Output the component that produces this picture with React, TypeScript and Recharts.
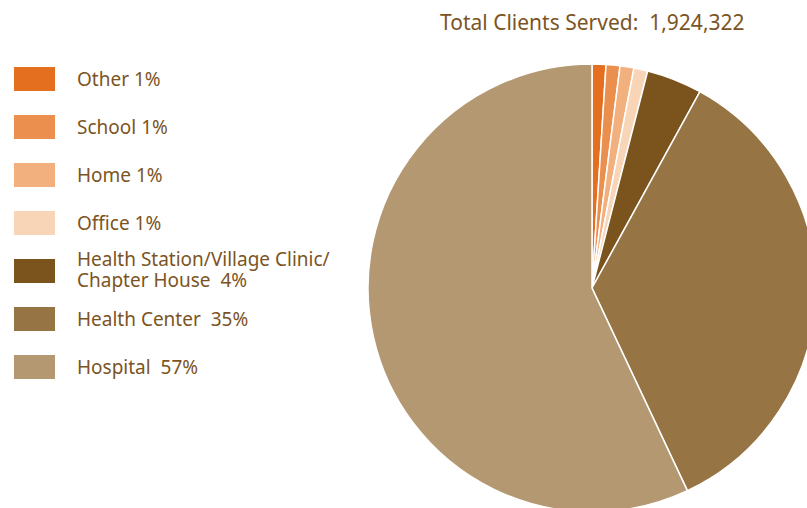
import React from 'react';
import { PieChart, Pie, Cell, Legend } from 'recharts';

// Sites where clients were served, clockwise from 12 o'clock
const CATEGORIES = [
  'Other',
  'School',
  'Home',
  'Office',
  'Health Station/Village Clinic/ Chapter House',
  'Health Center',
  'Hospital',
];
const SHARES = [1, 1, 1, 1, 4, 35, 57];
const LEGEND_LABELS = [
  ['Other 1%'],
  ['School 1%'],
  ['Home 1%'],
  ['Office 1%'],
  ['Health Station/Village Clinic/', 'Chapter House\u00a0 4%'],
  ['Health Center\u00a0 35%'],
  ['Hospital\u00a0 57%'],
];
const TITLE = 'Total Clients Served:\u00a0 1,924,322';

const COLORS = ['#e4701f', '#eb8f4f', '#f3b07f', '#f9d5b8', '#7b531c', '#977444', '#b49871'];
const TEXT = '#7c5424';
const FONT = '"Noto Sans", sans-serif';

const data = CATEGORIES.map((name, i) => ({ name, value: SHARES[i], label: LEGEND_LABELS[i] }));

const renderLegend = () => (
  <div style={{ fontFamily: FONT, color: TEXT }}>
    {data.map((d, i) => (
      <div key={d.name} style={{ position: 'absolute', left: 14, top: 67 + i * 48, height: 24 }}>
        <div style={{ position: 'absolute', left: 0, top: 0, width: 41, height: 24, background: COLORS[i] }} />
        <div
          style={{
            position: 'absolute',
            left: 63,
            top: d.label.length > 1 ? -10 : 1,
            fontSize: 19,
            lineHeight: d.label.length > 1 ? '21px' : '22px',
            whiteSpace: 'nowrap',
          }}
        >
          {d.label.map((l, j) => (
            <React.Fragment key={l}>
              {j > 0 && <br />}
              {l}
            </React.Fragment>
          ))}
        </div>
      </div>
    ))}
  </div>
);

export default function App() {
  return (
    <div style={{ position: 'absolute', left: 0, top: 0, width: 807, height: 508, overflow: 'hidden', background: '#fff' }}>
      <div
        style={{
          position: 'absolute',
          left: 440,
          top: 8,
          fontFamily: FONT,
          fontSize: 21,
          color: TEXT,
          whiteSpace: 'nowrap',
        }}
      >
        {TITLE}
      </div>
      <PieChart
        width={807}
        height={508}
        margin={{ top: 0, right: 0, bottom: 0, left: 0 }}
        style={{ position: 'absolute', left: 0, top: 0 }}
      >
        <Pie
          data={data}
          dataKey="value"
          nameKey="name"
          cx={592}
          cy={288}
          outerRadius={224}
          startAngle={90}
          endAngle={-270}
          stroke="#ffffff"
          strokeWidth={1.5}
          isAnimationActive={false}
        >
          {data.map((d, i) => (
            <Cell key={d.name} fill={COLORS[i]} />
          ))}
        </Pie>
        <Legend content={renderLegend} wrapperStyle={{ left: 0, top: 0, width: 360, height: 400 }} />
      </PieChart>
    </div>
  );
}
